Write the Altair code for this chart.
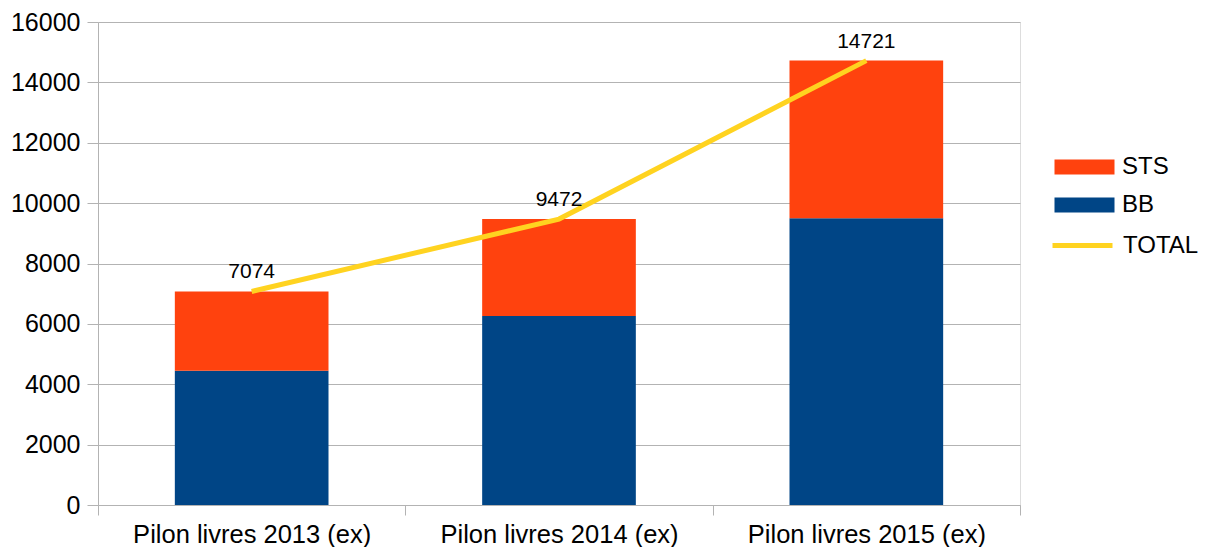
import altair as alt
import pandas as pd

categories = ["Pilon livres 2013 (ex)", "Pilon livres 2014 (ex)", "Pilon livres 2015 (ex)"]
bb_values = [4450, 6260, 9500]
sts_values = [2624, 3212, 5221]
total_values = [7074, 9472, 14721]

bar_series = ["STS", "BB"]
bar_colors = ["#ff420e", "#004586"]
line_series = ["TOTAL"]
line_colors = ["#ffd320"]
y_ticks = [0, 2000, 4000, 6000, 8000, 10000, 12000, 14000, 16000]

rows = []
for c, b, s, t in zip(categories, bb_values, sts_values, total_values):
    rows.append({"category": c, "series": "BB", "value": b, "ord": 0})
    rows.append({"category": c, "series": "STS", "value": s, "ord": 1})
    rows.append({"category": c, "series": "TOTAL", "value": t, "ord": 2})
df = pd.DataFrame(rows)

FONT = "Liberation Sans"
GRID = "#b3b3b3"

rect_path = "M-1,-1H7V1H-1Z"

bar_legend = alt.Legend(
    title=None,
    orient="none",
    legendX=952,
    legendY=133,
    symbolType=rect_path,
    symbolSize=225,
    symbolStrokeWidth=0,
    symbolOpacity=1,
    labelFontSize=24,
    labelFont=FONT,
    labelColor="#000000",
    labelOffset=48,
    rowPadding=14,
)

line_legend = alt.Legend(
    title=None,
    orient="none",
    legendX=952,
    legendY=191,
    symbolType="stroke",
    symbolSize=3600,
    symbolStrokeWidth=5,
    symbolOpacity=1,
    labelFontSize=24,
    labelFont=FONT,
    labelColor="#000000",
    labelOffset=8,
)

x_enc = alt.X(
    "category:N",
    sort=categories,
    scale=alt.Scale(paddingInner=0, paddingOuter=0),
    axis=alt.Axis(
        title=None,
        labelAngle=0,
        tickBand="extent",
        tickSize=10,
        tickColor=GRID,
        domainColor=GRID,
        grid=False,
        labelFontSize=25.5,
        labelFont=FONT,
        labelColor="#000000",
        labelPadding=7,
        labelLimit=500,
    ),
)

y_axis = alt.Axis(
    title=None,
    values=y_ticks,
    format="d",
    tickSize=11,
    tickColor=GRID,
    domainColor=GRID,
    gridColor=GRID,
    labelFontSize=25,
    labelFont=FONT,
    labelColor="#000000",
    labelPadding=7,
)
y_scale = alt.Scale(domain=[0, 16000], nice=False)

base = alt.Chart(df)

bars = base.transform_filter(alt.datum.series != "TOTAL").mark_bar(
    width=alt.RelativeBandSize(0.5)
).encode(
    x=x_enc,
    y=alt.Y("value:Q", stack="zero", scale=y_scale, axis=y_axis),
    color=alt.Color(
        "series:N",
        scale=alt.Scale(domain=bar_series, range=bar_colors),
        legend=bar_legend,
    ),
    order=alt.Order("ord:Q"),
)

line = base.transform_filter(alt.datum.series == "TOTAL").mark_line(strokeWidth=5).encode(
    x=x_enc,
    y=alt.Y("value:Q", stack=None, scale=y_scale, axis=y_axis),
    stroke=alt.Stroke(
        "series:N",
        scale=alt.Scale(domain=line_series, range=line_colors),
        legend=line_legend,
    ),
)

labels = base.transform_filter(alt.datum.series == "TOTAL").mark_text(
    dy=-19, fontSize=21, font=FONT, color="#000000", baseline="middle"
).encode(
    x=x_enc,
    y=alt.Y("value:Q", stack=None, scale=y_scale, axis=y_axis),
    text=alt.Text("value:Q", format="d"),
)

chart = alt.layer(bars, line, labels).properties(
    width=922,
    height=483,
    autosize=alt.AutoSizeParams(type="none"),
    padding={"left": 90, "top": 14, "right": 180, "bottom": 42},
).configure_view(stroke=GRID, strokeWidth=1).configure(font=FONT)

chart.save("out.html", embed_options={"renderer": "svg", "actions": False})
